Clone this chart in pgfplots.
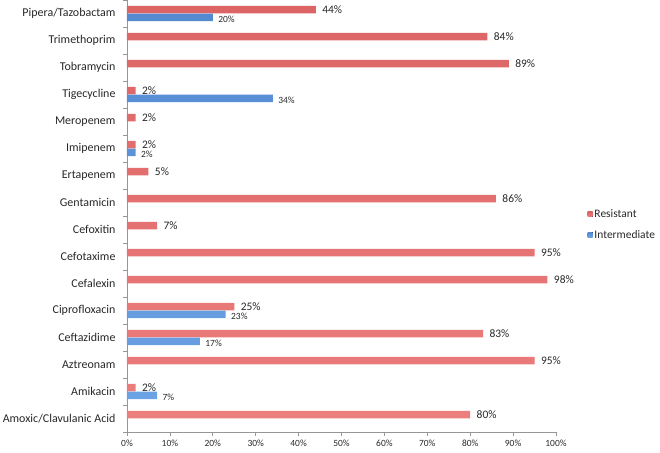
\documentclass[border=0pt]{standalone}
\usepackage{fontspec}
\setmainfont{Carlito}
\usepackage{pgfplots}
\pgfplotsset{compat=1.18}
\definecolor{resred}{RGB}{236,126,126}
\definecolor{resdark}{RGB}{220,100,100}
\definecolor{reslight}{RGB}{250,186,186}
\definecolor{intblue}{RGB}{106,162,228}
\definecolor{intdark}{RGB}{84,138,208}
\definecolor{intlight}{RGB}{166,204,244}
\definecolor{axgray}{RGB}{150,150,150}
\definecolor{txt}{RGB}{40,40,40}
\begin{document}
\begin{tikzpicture}
\begin{axis}[
  at={(0,0)}, anchor=south west,
  scale only axis, width=429bp, height=432bp,
  xbar, bar width=7.5bp,
  xmin=0, xmax=100, ymin=-0.5, ymax=15.5,
  axis x line*=bottom, axis y line*=left,
  axis line style={axgray, line width=0.8bp},
  xtick={0,10,...,100},
  xticklabel={\pgfmathprintnumber{\tick}\%},
  xticklabel style={font=\fontsize{9.5}{11}\selectfont, text=txt, yshift=-0.5bp},
  /pgf/number format/assume math mode=true,
  ytick={0,...,15},
  yticklabels={Amoxic/Clavulanic Acid, Amikacin, Aztreonam, Ceftazidime, Ciprofloxacin, Cefalexin, Cefotaxime, Cefoxitin, Gentamicin, Ertapenem, Imipenem, Meropenem, Tigecycline, Tobramycin, Trimethoprim, Pipera/Tazobactam},
  yticklabel style={font=\fontsize{12}{14}\selectfont, text=txt, xshift=-4bp},
  minor ytick={-0.5,0.5,...,15.5},
  tick align=outside,
  tick pos=left,
  major tick length=4bp,
  minor tick length=4bp,
  major y tick style={draw=none},
  tick style={axgray, line width=0.6bp},
  legend style={draw=none, fill=none, at={(1.066,0.48)}, anchor=west,
    font=\fontsize{11.5}{13}\selectfont, text=txt, row sep=7bp,
    /tikz/every even column/.append style={column sep=2bp}},
  legend cell align=left,
  legend image code/.code={\fill[#1] (0bp,-2.5bp) rectangle (5bp,2.5bp);},
  point meta=x,
  nodes near coords={\pgfmathprintnumber[fixed,precision=0]{\pgfplotspointmeta}\%},
]
\addplot[draw=none, top color=resdark, middle color=reslight, bottom color=resred,
  bar shift=3.75bp,
  nodes near coords style={font=\fontsize{11.5}{13}\selectfont, text=txt, anchor=west, xshift=3bp, yshift=0bp}]
  coordinates {
  (80,0) (2,1) (95,2) (83,3) (25,4) (98,5) (95,6) (7,7)
  (86,8) (5,9) (2,10) (2,11) (2,12) (89,13) (84,14) (44,15)};
\addplot[draw=none, top color=intdark, middle color=intlight, bottom color=intblue,
  bar shift=-4bp,
  nodes near coords style={font=\fontsize{9.5}{11}\selectfont, text=txt, anchor=west, xshift=2bp, yshift=-2bp}]
  coordinates {
  (7,1) (17,3) (23,4) (2,10) (34,12) (20,15)};
\legend{Resistant, Intermediate}
\end{axis}
\pgfresetboundingbox
\useasboundingbox (-127bp,-21bp) rectangle (533bp,432bp);
\end{tikzpicture}
\end{document}
